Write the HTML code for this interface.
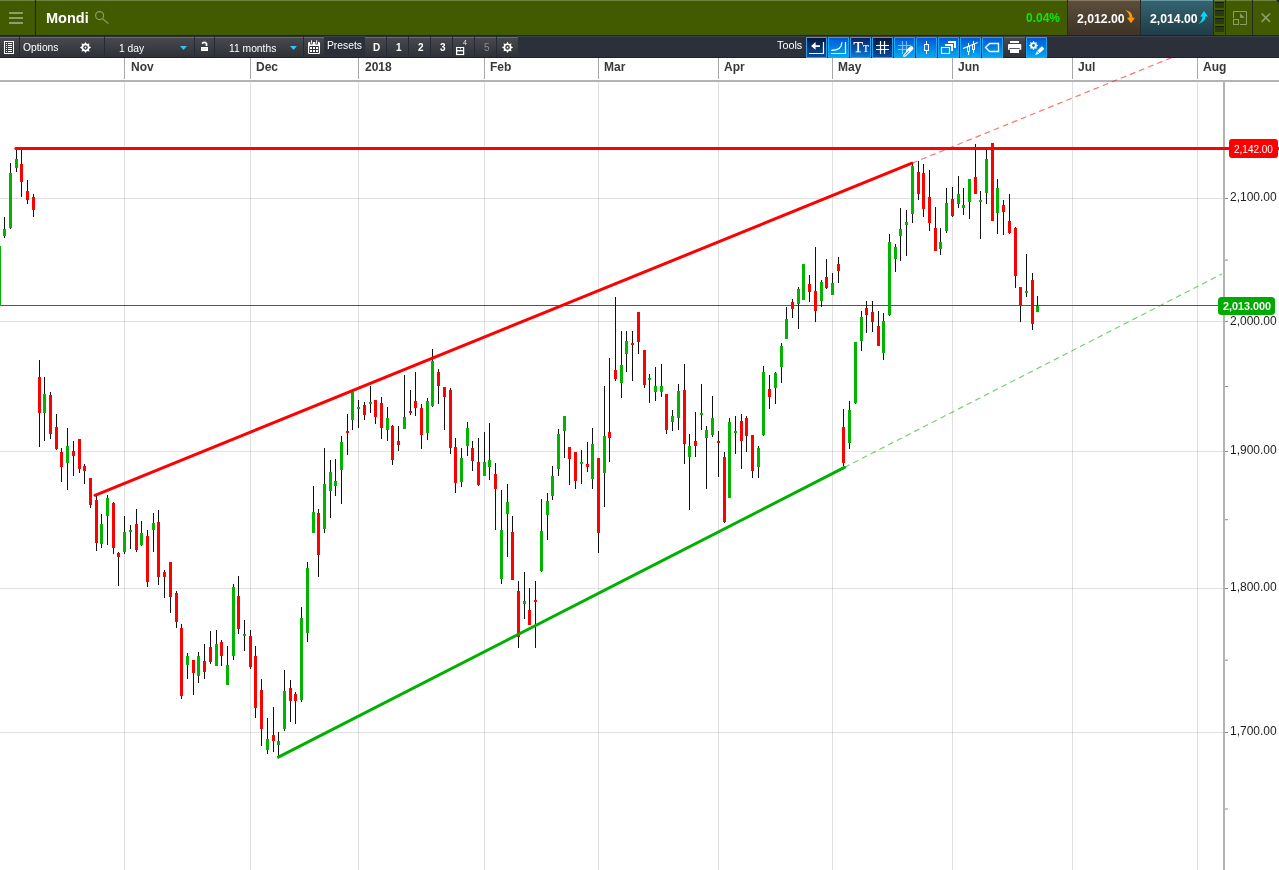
<!DOCTYPE html>
<html><head><meta charset="utf-8"><title>Mondi</title>
<style>
*{margin:0;padding:0;box-sizing:border-box}
html,body{width:1279px;height:870px;overflow:hidden;background:#fff;font-family:"Liberation Sans",sans-serif;position:relative}
.a{position:absolute}
div,svg{will-change:transform}
#hdr{left:0;top:0;width:1279px;height:35px;background:#435b00;border-top:1px solid #6c843c}
.sep{position:absolute;top:0;width:1px;height:35px;background:#1b2231}
.tb{position:absolute;top:35px;height:23px;background:#2b303b}
.btn{position:absolute;top:37px;height:20px;background:linear-gradient(#47494e,#2e3136);border-top:1px solid #686b70}
.tsep{position:absolute;top:36px;width:1px;height:21px;background:#242a36}
.wt{color:#fff;font-size:10px;position:absolute;white-space:nowrap}
.tool{position:absolute;top:37px;width:21px;height:21px;border:1px solid #1aa6f0;background:linear-gradient(#0058d8,#00a8f0)}
.tool.dk{background:linear-gradient(#07163e,#0b4c9c)}
.tool.md{background:linear-gradient(#0d1f66,#0a7ad8)}
.mon{position:absolute;top:60px;font-size:12px;color:#383838;font-weight:bold}
.pl{position:absolute;left:1229.6px;font-size:12px;color:#1e1e1e}
</style></head><body>
<!-- header -->
<div id="hdr" class="a"></div>
<svg class="a" style="left:0;top:0" width="1279" height="35">
 <g fill="#8c9e6b"><rect x="9" y="12" width="14" height="2"/><rect x="9" y="17" width="14" height="2"/><rect x="9" y="22" width="14" height="2"/></g>
 <rect x="35" y="0" width="1" height="35" fill="#18202a"/>
 <g stroke="#8a9c68" stroke-width="1.2" fill="none"><circle cx="99.6" cy="15.6" r="4"/><path d="M102.6 18.7L108.5 23.6"/></g>
</svg>
<div class="a" style="left:46px;top:10px;font-size:14.5px;font-weight:bold;color:#fff">Mondi</div>
<div class="a" style="left:1026px;top:11px;font-size:12px;font-weight:bold;color:#0be80b">0.04%</div>
<div class="a" style="left:1067px;top:0;width:1px;height:35px;background:#252a2f"></div>
<div class="a" style="left:1068px;top:0;width:72px;height:35px;background:linear-gradient(#5c4e3b,#3d3326);border-top:1px solid #8b7b66"></div>
<div class="a" style="left:1077px;top:12px;font-size:12.25px;font-weight:bold;color:#fff">2,012.00</div>
<svg class="a" style="left:1124px;top:9px" width="13" height="16"><path d="M1.3 1.2C5.2 1.6 8.5 4 8.4 8.6L10.9 8.7L7 14.3L3 8.7L5.5 8.6C5.6 5.5 4.2 3 1.3 1.2Z" fill="#ff9900"/></svg>
<div class="a" style="left:1140px;top:0;width:1px;height:35px;background:#252a2f"></div>
<div class="a" style="left:1213px;top:0;width:1px;height:35px;background:#252a2f"></div>
<div class="a" style="left:1141px;top:0;width:72px;height:35px;background:linear-gradient(#346470,#1f3d48);border-top:1px solid #6a9aa6"></div>
<div class="a" style="left:1150px;top:12px;font-size:12.25px;font-weight:bold;color:#fff">2,014.00</div>
<svg class="a" style="left:1197px;top:9px" width="13" height="16"><path d="M7 2L11 7.6L8.4 7.5C8.4 10.7 6 13.6 1.3 14.8C4 12.6 5.4 10.5 5.5 7.5L3.1 7.6Z" fill="#08d8f6"/></svg>
<svg class="a" style="left:1214px;top:0" width="65" height="35">
 <g fill="#2c3a12"><rect x="1" y="2" width="9" height="6"/><rect x="1" y="10" width="9" height="6"/><rect x="1" y="18" width="9" height="6"/><rect x="1" y="26" width="9" height="6"/></g>
 <g fill="#161c0a"><rect x="1" y="2" width="9" height="1"/><rect x="1" y="10" width="9" height="1"/><rect x="1" y="18" width="9" height="1"/><rect x="1" y="26" width="9" height="1"/></g>
 <rect x="11" y="0" width="1" height="35" fill="#262b24"/>
 <g stroke="#8c9e6b" stroke-width="1" fill="none"><path d="M19.5 18V11.5H32.5V24.5H26"/><rect x="19.5" y="19.5" width="5" height="5"/></g>
 <path d="M26.1 13.2V17.8H30.7Z" fill="#8c9e6b"/>
 <rect x="38" y="0" width="1" height="35" fill="#262b24"/>
 <path d="M47.6 13.5L56 21.9M56 13.5L47.6 21.9" stroke="#8c9e6b" stroke-width="1.6"/>
 <path d="M62 0H65V3Z" fill="#1b2231"/>
</svg>

<!-- toolbar -->
<div class="tb" style="left:0;width:1279px;border-top:1px solid #1b2231;border-bottom:1px solid #1d222b"></div>
<div class="btn" style="left:0;width:1279px"></div>
<div class="tb" style="left:324px;width:41px;top:36px;height:21px;border-top:1px solid #3a3f49"></div>
<div class="tb" style="left:518px;width:761px;top:36px;height:21px;border-top:1px solid #3a3f49"></div>
<div class="tsep" style="left:19px"></div>
<div class="tsep" style="left:104px"></div>
<div class="tsep" style="left:194px"></div>
<div class="tsep" style="left:214px"></div>
<div class="tsep" style="left:303px"></div>
<div class="tsep" style="left:386px"></div>
<div class="tsep" style="left:408px"></div>
<div class="tsep" style="left:430px"></div>
<div class="tsep" style="left:452px"></div>
<div class="tsep" style="left:474px"></div>
<div class="tsep" style="left:496px"></div>
<svg class="a" style="left:0;top:35px" width="520" height="23">
 <g fill="none" stroke="#fff" stroke-width="1"><rect x="4.5" y="6.5" width="9" height="12"/></g>
 <g fill="#fff"><rect x="6" y="8" width="1" height="1"/><rect x="8" y="8" width="4" height="1"/><rect x="6" y="10" width="1" height="1"/><rect x="8" y="10" width="4" height="1"/><rect x="6" y="12" width="1" height="1"/><rect x="8" y="12" width="4" height="1"/><rect x="6" y="14" width="1" height="1"/><rect x="8" y="14" width="4" height="1"/><rect x="6" y="16" width="1" height="1"/><rect x="8" y="16" width="4" height="1"/></g>
 <path d="M85.50 6.90L86.92 9.08L89.46 8.54L88.92 11.08L91.10 12.50L88.92 13.92L89.46 16.46L86.92 15.92L85.50 18.10L84.08 15.92L81.54 16.46L82.08 13.92L79.90 12.50L82.08 11.08L81.54 8.54L84.08 9.08Z" fill="#fff"/><circle cx="85.5" cy="12.5" r="2.3" fill="#3a3d42"/><circle cx="85.5" cy="12.5" r="0.9" fill="#fff"/>
 <path d="M180 11H187L183.5 15Z" fill="#3dbff2"/>
 <rect x="201" y="12" width="7" height="4" fill="#fff"/><rect x="202" y="13" width="5" height="2" fill="#ececec"/><path d="M202.1 8.6Q204.4 6.3 206.5 8.6V11" fill="none" stroke="#fff" stroke-width="1.7"/>
 <path d="M290 11H297L293.5 15Z" fill="#3dbff2"/>
 <g transform="translate(0 -35)">
  <rect x="308" y="42" width="12" height="12" rx="1.3" fill="#fff"/>
  <rect x="309.2" y="46" width="9.6" height="7" fill="#2f3237"/>
  <g fill="#fff"><rect x="310" y="47" width="2" height="2"/><rect x="313" y="47" width="2" height="2"/><rect x="316" y="47" width="2" height="2"/><rect x="310" y="50" width="2" height="2"/><rect x="313" y="50" width="2" height="2"/><rect x="316" y="50" width="2" height="2"/></g>
  <rect x="310.2" y="40.6" width="2.6" height="4" rx="1.2" fill="#3a3d42"/><rect x="315.3" y="40.6" width="2.6" height="4" rx="1.2" fill="#3a3d42"/>
  <rect x="311.1" y="40.2" width="0.9" height="3.4" fill="#fff"/><rect x="316.2" y="40.2" width="0.9" height="3.4" fill="#fff"/>
 </g>
 <g transform="translate(456 12)"><rect x="0" y="0" width="8.2" height="8.1" fill="#fff"/><rect x="1.3" y="1" width="5.7" height="2" fill="#34373c"/><rect x="3.9" y="1" width="0.9" height="1.3" fill="#fff"/><rect x="1.3" y="4.4" width="5.7" height="2.5" fill="#34373c"/></g>
 <path d="M507.50 6.80L508.92 8.98L511.46 8.44L510.92 10.98L513.10 12.40L510.92 13.82L511.46 16.36L508.92 15.82L507.50 18.00L506.08 15.82L503.54 16.36L504.08 13.82L501.90 12.40L504.08 10.98L503.54 8.44L506.08 8.98Z" fill="#fff"/><circle cx="507.5" cy="12.4" r="2.3" fill="#3a3d42"/><circle cx="507.5" cy="12.4" r="0.9" fill="#fff"/>
</svg>
<div class="wt" style="left:23px;top:42px;font-size:10.3px">Options</div>
<div class="wt" style="left:119px;top:43px;font-size:10.3px">1 day</div>
<div class="wt" style="left:229px;top:43px;font-size:10.3px">11 months</div>
<div class="wt" style="left:327px;top:40px;font-size:10.3px">Presets</div>
<div class="wt" style="left:373px;top:42px;font-weight:bold">D</div>
<div class="wt" style="left:396px;top:42px;font-weight:bold">1</div>
<div class="wt" style="left:418px;top:42px;font-weight:bold">2</div>
<div class="wt" style="left:440px;top:42px;font-weight:bold">3</div>
<div class="wt" style="left:463px;top:39px;font-size:7px;color:#e8e8e8">4</div>
<div class="wt" style="left:484px;top:42px;color:#8a8c90">5</div>
<div class="wt" style="left:777px;top:39px;font-size:10.8px">Tools</div>
<!-- tool buttons -->
<div class="tool dk" style="left:806px"></div>
<div class="tool" style="left:828px"></div>
<div class="tool md" style="left:850px"></div>
<div class="tool dk" style="left:872px"></div>
<div class="tool" style="left:894px"></div>
<div class="tool" style="left:916px"></div>
<div class="tool" style="left:938px"></div>
<div class="tool" style="left:960px"></div>
<div class="tool" style="left:982px"></div>
<div class="btn" style="left:1004px;width:21px"></div>
<div class="tool" style="left:1026px"></div>
<svg class="a" style="left:800px;top:35px" width="260" height="23">
 <path d="M11.1 10.9L15.6 7.1V10.2H19.9V12H15.6V14.8Z" fill="#fff"/>
 <g fill="none" stroke="#fff" stroke-width="1.2">
  <path d="M23.5 7V18.5H9"/>
  <path d="M45.5 7V18.5H31"/>
  <path d="M31.3 15.4C37.6 15.4 41.9 13 41.9 7.3"/>
 </g>
 <text x="53.6" y="17.1" font-family="Liberation Serif" font-size="15.5" fill="#fff" stroke="#fff" stroke-width="0.25">T</text>
 <text x="63" y="17.1" font-family="Liberation Serif" font-size="9.4" fill="#fff" stroke="#fff" stroke-width="0.2">T</text>
 <path d="M80.5 6V19M84.5 6V19M76 10.5H89M76 14.5H89" stroke="#fff" stroke-width="1.2" fill="none"/>
 <path d="M102.5 6V19M106.5 6V19M98 10.5H111M98 14.5H111" stroke="#fff" stroke-opacity="0.5" stroke-width="1.1" fill="none"/>
 <path d="M111.3 13.2L108.4 16.1" stroke="#fff" stroke-width="4.2" stroke-linecap="round"/>
 <path d="M108.6 15.2L110 16.6L105.2 21.2L103.7 21.3L103.9 19.9Z" fill="#0a8ce8" stroke="#fff" stroke-width="1.1" stroke-linejoin="round"/>
 <path d="M126.5 6V19" stroke="#fff" stroke-width="1"/>
 <rect x="124.5" y="9.5" width="4" height="6" fill="#0a80e2" stroke="#fff" stroke-width="1"/>
 <rect x="141.5" y="12.5" width="8" height="6" fill="none" stroke="#fff" stroke-width="1.1"/>
 <path d="M145 9H153V16H151V11H145ZM148 6H156V13H154V8H148Z" fill="#fff"/>
 <path d="M163.1 13.6L177.7 7.5" stroke="#fff" stroke-width="1.1"/>
 <path d="M168.5 8V20M173.5 6V18" stroke="#fff" stroke-width="1"/>
 <rect x="167.5" y="11.5" width="2" height="5" fill="#0a86e6" stroke="#fff" stroke-width="1"/>
 <rect x="172.5" y="9.5" width="2" height="5" fill="#0a86e6" stroke="#fff" stroke-width="1"/>
 <path d="M185.5 12.5L189.6 8.5H198.5V16.5H189.6Z" fill="none" stroke="#fff" stroke-width="1.3"/>
 <g fill="#fff">
  <rect x="210" y="6" width="9" height="2"/>
  <path d="M208 9.8Q208 8.9 209 8.9H220.3Q221.3 8.9 221.3 9.8V14.8H208Z"/>
  <rect x="210" y="13.9" width="9" height="4.1"/>
 </g>
 <rect x="209.3" y="13.1" width="10.4" height="0.8" fill="#2e3136"/>
 <path d="M233.50 5.80L234.69 7.64L236.82 7.18L236.36 9.31L238.20 10.50L236.36 11.69L236.82 13.82L234.69 13.36L233.50 15.20L232.31 13.36L230.18 13.82L230.64 11.69L228.80 10.50L230.64 9.31L230.18 7.18L232.31 7.64Z" fill="#fff"/><circle cx="233.5" cy="10.5" r="1.4" fill="#0a6ddc"/>
 <path d="M241.9 11.2L244.3 13.7L239.6 18.2L237.2 15.7Z" fill="#fff"/>
 <path d="M236.8 16.3L239.1 18.7L235.2 20Z" fill="#fff"/>
</svg>

<!-- chart -->
<svg class="a" style="left:0;top:58px" width="1279" height="812" viewBox="0 58 1279 812">
 <g stroke="#000" stroke-opacity="0.12" stroke-width="1">
  <path d="M124.5 82V870M250.5 82V870M358.5 82V870M484.5 82V870M598.5 82V870M718.5 82V870M832.5 82V870M952.5 82V870M1072.5 82V870M1197.5 82V870"/>
  <path d="M0 198.5H1223M0 321.5H1223M0 451.5H1223M0 588.5H1223M0 732.5H1223"/>
 </g>
 <g stroke="#a8a8a8" stroke-width="1">
  <path d="M124.5 58V79M250.5 58V79M358.5 58V79M484.5 58V79M598.5 58V79M718.5 58V79M832.5 58V79M952.5 58V79M1072.5 58V79M1197.5 58V79"/>
 </g>
 <rect x="0" y="80" width="1279" height="2" fill="#b3b3b3"/>
 <rect x="1223" y="82" width="2" height="788" fill="#b3b3b3"/>
 <g stroke="#888" stroke-width="1">
  <path d="M1225 198.5H1228M1225 321.5H1228M1225 451.5H1228M1225 588.5H1228M1225 732.5H1228"/>
 </g>
 <g stroke="#909090" stroke-width="1">
  <path d="M1225 260.1H1228M1225 386.5H1228M1225 519.7H1228M1225 660.2H1228M1225 809H1228"/>
 </g>
 <path d="M0 305.5H1220" stroke="#555" stroke-width="1"/>
 <path d="M-0.5 240V310M4.5 217V238M10.5 163V229M16.5 149V172M21.5 149V197M27.5 180V204M33.5 194V217M39.5 360V447M44.5 377V441M50.5 392V439M56.5 414V450M61.5 448V482M67.5 428V490M73.5 441V476M79.5 439V473M84.5 464V484M90.5 478V508M96.5 496V551M101.5 514V548M107.5 495V545M113.5 502V554M118.5 552V586M124.5 516V554M130.5 525V549M136.5 509V552M141.5 521V546M147.5 530V587M153.5 513V552M158.5 510V585M164.5 570V598M170.5 562V613M176.5 591V628M181.5 624V699M187.5 653V679M193.5 660V695M198.5 652V683M204.5 644V679M210.5 631V664M216.5 630V666M221.5 640V666M227.5 646V685M233.5 584V660M238.5 576V634M244.5 620V651M250.5 630V669M255.5 646V718M261.5 679V746M267.5 718V754M273.5 707V752M278.5 732V757M284.5 670V731M290.5 680V722M295.5 692V724M301.5 607V702M307.5 562V642M313.5 486V533M318.5 509V577M324.5 448V533M330.5 460V518M335.5 459V496M341.5 436V504M347.5 414V455M352.5 391V430M358.5 400V428M364.5 402V420M370.5 386V413M375.5 400V424M381.5 397V439M387.5 407V441M392.5 425V465M398.5 426V451M404.5 375V429M410.5 390V415M415.5 372V416M421.5 404V449M427.5 398V440M432.5 349V407M438.5 369V404M444.5 387V430M450.5 388V454M455.5 438V493M461.5 448V487M467.5 422V456M472.5 441V471M478.5 438V486M484.5 432V476M489.5 423V480M495.5 463V530M501.5 490V584M507.5 484V557M512.5 516V580M518.5 581V648M524.5 572V619M529.5 588V625M535.5 581V648M541.5 499V572M547.5 493V540M552.5 466V500M558.5 429V476M564.5 416V458M569.5 447V485M575.5 452V489M581.5 450V484M587.5 442V472M592.5 428V489M598.5 458V553M604.5 386V507M609.5 358V462M615.5 297V381M621.5 331V398M626.5 331V372M632.5 331V381M638.5 312V354M644.5 350V388M649.5 374V403M655.5 367V401M661.5 364V397M666.5 394V434M672.5 410V431M678.5 384V430M684.5 364V464M689.5 434V510M695.5 412V457M701.5 384V430M706.5 426V489M712.5 396V437M718.5 431V477M724.5 452V523M729.5 418V498M735.5 416V454M741.5 414V469M746.5 416V452M752.5 435V478M758.5 446V478M763.5 366V436M769.5 375V409M775.5 372V404M781.5 343V383M786.5 307V339M792.5 299V318M798.5 287V329M803.5 264V300M809.5 275V302M815.5 247V322M821.5 280V307M826.5 259V289M832.5 273V295M838.5 257V283M843.5 409V466M849.5 401V449M855.5 342V404M861.5 311V351M866.5 301V333M872.5 301V332M878.5 311V346M883.5 313V360M889.5 234V316M895.5 244V272M900.5 208V261M906.5 210V256M912.5 162V223M918.5 161V200M923.5 164V217M929.5 170V231M935.5 207V251M940.5 228V255M946.5 188V233M952.5 187V217M958.5 176V208M963.5 188V215M969.5 179V219M975.5 144V194M980.5 191V239M986.5 149V204M992.5 143V221M997.5 179V234M1003.5 200V235M1009.5 194V234M1015.5 227V288M1020.5 287V322M1026.5 254V297M1032.5 273V330M1037.5 296V312" stroke="#111" stroke-width="1" fill="none"/><path d="M20 164h3v18h-3zM26 191h3v9h-3zM32 197h3v13h-3zM38 377h3v36h-3zM49 395h3v39h-3zM55 427h3v22h-3zM60 452h3v15h-3zM72 451h3v5h-3zM78 439h3v30h-3zM83 466h3v5h-3zM89 478h3v27h-3zM95 500h3v43h-3zM112 503h3v45h-3zM117 553h3v4h-3zM135 524h3v26h-3zM146 536h3v46h-3zM157 522h3v55h-3zM163 572h3v5h-3zM169 562h3v35h-3zM175 593h3v29h-3zM180 628h3v68h-3zM192 660h3v13h-3zM203 661h3v11h-3zM209 647h3v15h-3zM220 642h3v14h-3zM237 596h3v33h-3zM249 636h3v31h-3zM254 656h3v52h-3zM260 690h3v39h-3zM272 735h3v6h-3zM289 688h3v13h-3zM294 694h3v7h-3zM317 513h3v42h-3zM346 431h3v2h-3zM363 405h3v10h-3zM374 400h3v17h-3zM380 403h3v25h-3zM391 426h3v34h-3zM397 441h3v4h-3zM409 411h3v2h-3zM414 401h3v7h-3zM420 408h3v27h-3zM437 372h3v14h-3zM443 387h3v10h-3zM449 390h3v58h-3zM454 447h3v36h-3zM471 448h3v13h-3zM477 462h3v23h-3zM494 474h3v15h-3zM511 532h3v48h-3zM517 591h3v46h-3zM528 610h3v15h-3zM534 600h3v2h-3zM568 447h3v12h-3zM574 452h3v29h-3zM586 464h3v3h-3zM597 458h3v75h-3zM608 432h3v6h-3zM614 370h3v9h-3zM631 343h3v2h-3zM637 312h3v30h-3zM643 350h3v35h-3zM665 394h3v36h-3zM683 390h3v54h-3zM694 441h3v5h-3zM717 441h3v2h-3zM723 457h3v65h-3zM740 421h3v20h-3zM745 418h3v18h-3zM751 435h3v36h-3zM768 389h3v8h-3zM791 302h3v7h-3zM808 284h3v8h-3zM814 291h3v20h-3zM825 277h3v11h-3zM837 264h3v7h-3zM842 427h3v36h-3zM865 308h3v7h-3zM871 312h3v10h-3zM877 326h3v20h-3zM917 172h3v22h-3zM922 173h3v36h-3zM928 197h3v26h-3zM934 228h3v23h-3zM951 199h3v17h-3zM974 177h3v17h-3zM991 143h3v78h-3zM1002 205h3v7h-3zM1008 221h3v12h-3zM1014 228h3v48h-3zM1019 287h3v19h-3zM1031 280h3v44h-3z" fill="#ff0000"/><path d="M-2 246h3v60h-3zM3 229h3v7h-3zM9 173h3v55h-3zM15 159h3v9h-3zM43 394h3v19h-3zM66 446h3v17h-3zM100 524h3v20h-3zM106 498h3v18h-3zM123 532h3v20h-3zM129 530h3v2h-3zM140 533h3v12h-3zM152 523h3v7h-3zM186 656h3v9h-3zM197 656h3v20h-3zM215 644h3v22h-3zM226 665h3v20h-3zM232 587h3v69h-3zM243 634h3v2h-3zM266 739h3v11h-3zM277 741h3v4h-3zM283 691h3v38h-3zM300 618h3v82h-3zM306 568h3v65h-3zM312 512h3v21h-3zM323 484h3v45h-3zM329 472h3v19h-3zM334 481h3v5h-3zM340 442h3v28h-3zM351 392h3v28h-3zM357 407h3v2h-3zM369 402h3v2h-3zM386 418h3v12h-3zM403 417h3v12h-3zM426 401h3v32h-3zM431 361h3v45h-3zM460 458h3v24h-3zM466 428h3v18h-3zM483 462h3v14h-3zM488 460h3v7h-3zM500 530h3v49h-3zM506 502h3v12h-3zM523 601h3v3h-3zM540 531h3v40h-3zM546 501h3v14h-3zM551 476h3v20h-3zM557 434h3v35h-3zM563 416h3v15h-3zM580 462h3v2h-3zM591 444h3v35h-3zM603 436h3v37h-3zM620 365h3v18h-3zM625 341h3v13h-3zM648 378h3v2h-3zM654 386h3v6h-3zM660 386h3v6h-3zM671 416h3v6h-3zM677 391h3v27h-3zM688 446h3v11h-3zM700 413h3v2h-3zM705 430h3v8h-3zM711 418h3v17h-3zM728 422h3v76h-3zM734 431h3v2h-3zM757 448h3v19h-3zM762 372h3v63h-3zM774 373h3v15h-3zM780 346h3v21h-3zM785 319h3v20h-3zM797 289h3v15h-3zM802 264h3v36h-3zM820 282h3v19h-3zM831 283h3v12h-3zM848 410h3v33h-3zM854 342h3v61h-3zM860 317h3v24h-3zM882 321h3v32h-3zM888 242h3v73h-3zM894 247h3v12h-3zM899 229h3v7h-3zM905 222h3v3h-3zM911 166h3v48h-3zM939 242h3v7h-3zM945 203h3v28h-3zM957 194h3v10h-3zM962 205h3v3h-3zM968 179h3v23h-3zM979 200h3v2h-3zM985 159h3v34h-3zM996 188h3v25h-3zM1025 291h3v2h-3zM1036 306h3v6h-3z" fill="#00b400"/>
 <path d="M15.8 148.4H1282" stroke="#ff0000" stroke-width="3" stroke-linecap="round"/>
 <path d="M95 495.3L912 163.2" stroke="#ff0000" stroke-width="3" stroke-linecap="round"/>
 <path d="M912 163.2L1185 52.2" stroke="#ff0000" stroke-width="1.2" stroke-dasharray="5.8 4" stroke-opacity="0.55"/>
 <path d="M278.4 757.1L844.5 467.4" stroke="#00b000" stroke-width="3" stroke-linecap="round"/>
 <path d="M844.5 467.4L1222 273.9" stroke="#00b000" stroke-width="1.2" stroke-dasharray="5.8 4" stroke-opacity="0.55"/>
 <rect x="1229" y="139" width="49" height="19" rx="3" fill="#ff0000"/>
 <rect x="1218" y="297" width="57" height="18" rx="3.5" fill="#00aa00"/>
</svg>
<div class="mon" style="left:131px">Nov</div>
<div class="mon" style="left:256px">Dec</div>
<div class="mon" style="left:365px">2018</div>
<div class="mon" style="left:490px">Feb</div>
<div class="mon" style="left:604px">Mar</div>
<div class="mon" style="left:724px">Apr</div>
<div class="mon" style="left:838px">May</div>
<div class="mon" style="left:958px">Jun</div>
<div class="mon" style="left:1078px">Jul</div>
<div class="mon" style="left:1203px">Aug</div>
<div class="pl" style="top:190px">2,100.00</div>
<div class="pl" style="top:314px">2,000.00</div>
<div class="pl" style="top:443px">1,900.00</div>
<div class="pl" style="top:580px">1,800.00</div>
<div class="pl" style="top:724px">1,700.00</div>
<div class="a" style="left:1234px;top:144px;font-size:10px;color:#fff">2,142.00</div>
<div class="a" style="left:1223px;top:300px;font-size:10.8px;font-weight:bold;color:#fff">2,013.000</div>
</body></html>
